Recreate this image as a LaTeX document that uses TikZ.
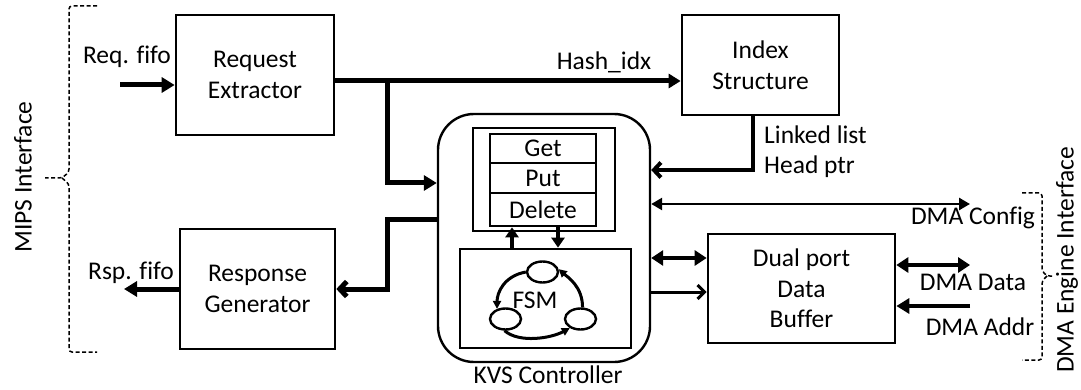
\documentclass[tikz,border=0pt]{standalone}
\usepackage{fontspec}
\setmainfont[Ligatures=NoCommon]{Carlito}
\usetikzlibrary{arrows.meta,shapes.geometric}
\begin{document}
\begin{tikzpicture}[x=1pt,y=-1pt,
  every node/.style={font=\fontsize{25.5}{30.5}\selectfont},
  block/.style={draw, line width=2.7pt, align=center, inner sep=0pt},
  cellbox/.style={draw, line width=2.7pt, minimum width=106pt, inner sep=0pt},
  lbl/.style={inner sep=0pt},
  state/.style={draw, ellipse, line width=2.4pt, minimum width=31pt, minimum height=21pt, inner sep=0pt},
  bus/.style={line width=5pt},
  tri/.style={-{Triangle[length=13pt,width=15pt]}},
  ttri/.style={{Triangle[length=12pt,width=15pt]}-{Triangle[length=12pt,width=15pt]}},
  barb/.style={-{Straight Barb[length=7pt,width=15pt]}},
  smalltri/.style={-{Triangle[length=8pt,width=8pt]}},
  brace/.style={line width=1.5pt, dash pattern=on 4pt off 2.5pt, rounded corners=3pt}]
\useasboundingbox (0,0) rectangle (1081,390);

% functional blocks
\node[block, minimum width=158pt, minimum height=120pt] (re) at (255,75) {Request\\Extractor};
\node[block, minimum width=155pt, minimum height=120pt] (rg) at (257.5,289) {Response\\Generator};
\node[block, minimum width=157pt, minimum height=100pt] (ix) at (760.5,65) {Index\\Structure};
\node[block, minimum width=187pt, minimum height=109pt] (db) at (801.5,288.5) {Dual port\\Data\\Buffer};

% KVS controller with operation table and state machine
\node[draw, line width=2.4pt, rounded corners=36pt, minimum width=212pt, minimum height=248pt] (kvs) at (544,238) {};
\node[block, minimum width=142pt, minimum height=103pt] (ops) at (544,179.5) {};
\node[cellbox, minimum height=29pt] (get) at (543,148.5) {Get};
\node[cellbox, minimum height=30pt] (put) at (543,178) {Put};
\node[cellbox, minimum height=33pt] (del) at (543,209.5) {Delete};
\node[block, minimum width=171pt, minimum height=99pt] (fsm) at (545.5,298.5) {};
\node[lbl] (fsmtxt) at (535,300) {FSM};
\node[state] (s1) at (542.5,272) {};
\node[state] (s2) at (505.5,319) {};
\node[state] (s3) at (580.5,319) {};
\draw[line width=3pt, smalltri] (s1.west) .. controls +(-22,4) and +(0,-16) .. (s2.130);
\draw[line width=3pt, smalltri] (s2.265) .. controls +(15,13) and +(-18,10) .. (s3.220);
\draw[line width=3pt, smalltri] (s3.80) .. controls +(0,-21) and +(9,8) .. (s1.10);

\coordinate (up) at (512,240);
\coordinate (dn) at (558,240);
\draw[line width=4pt, -{Triangle[length=10pt,width=13pt]}] (up |- fsm.north) -- (up |- del.south);
\draw[line width=4pt, -{Triangle[length=10pt,width=13pt]}] (dn |- del.south) -- (dn |- fsm.north);

% MIPS side
\coordinate (reqi) at (120,85);
\draw[bus, tri] (reqi) -- (reqi -| re.west);
\coordinate (rspo) at (124,289);
\draw[bus, tri] (rspo -| rg.west) -- (rspo);

\coordinate (hs) at (387,81);
\coordinate (kin) at (387,183);
\draw[bus, -{Triangle[length=12pt,width=14pt]}] (hs -| re.east) -- (hs -| ix.west);
\draw[bus, tri] (hs) -- (kin) -- (kin -| kvs.west);

\coordinate (r1) at (387,219);
\coordinate (r2) at (387,289);
\draw[bus, barb] (r1 -| kvs.west) -- (r1) -- (r2) -- (r2 -| rg.east);

% index lookup result
\coordinate (ll) at (753,170);
\draw[line width=4pt, barb] (ll |- ix.south) -- (ll) -- (ll -| kvs.east);

% DMA side
\coordinate (dc) at (970,204);
\draw[line width=2.6pt, {Triangle[length=11pt,width=12pt]}-{Triangle[length=11pt,width=12pt]}] (dc -| kvs.east) -- (dc);
\coordinate (kb1) at (680,258);
\draw[line width=4.5pt, ttri] (kb1 -| kvs.east) -- (kb1 -| db.west);
\coordinate (kb2) at (680,292);
\draw[line width=3pt, -{Straight Barb[length=7pt,width=14pt]}] (kb2 -| kvs.east) -- (kb2 -| db.west);
\coordinate (dd) at (970,265);
\draw[line width=4.5pt, ttri] (dd -| db.east) -- (dd);
\coordinate (da) at (970,306);
\draw[line width=4.5pt, tri] (da) -- (da -| db.east);

% signal labels
\node[lbl] (lreq) at (127,57) {Req. fifo};
\node[lbl] (lrsp) at (131,273) {Rsp. fifo};
\node[lbl] (lhash) at (604,62) {Hash\_idx};
\node[lbl, anchor=west] (lll) at (764,135) {Linked list};
\node[lbl, anchor=west] (lhp) at (764,167) {Head ptr};
\node[lbl] (ldc) at (973,218) {DMA Config};
\node[lbl] (ldd) at (973,282) {DMA Data};
\node[lbl] (lda) at (980,327) {DMA Addr};
\node[lbl] (lkvs) at (548,375) {KVS Controller};

% interface braces
\draw[brace] (97,6) -- (69,6) -- (69,172) -- (62,178) -- (45,178);
\draw[brace] (62,178) -- (69,184) -- (69,352) -- (97,352);
\node[lbl, rotate=90] (lmips) at (23,177) {MIPS Interface};
\draw[brace] (1022,193) -- (1042,193) -- (1042,271) -- (1047,276) -- (1053,276);
\draw[brace] (1047,276) -- (1042,281) -- (1042,360) -- (1022,360);
\node[lbl, rotate=90] (ldma) at (1067,260) {DMA Engine Interface};
\end{tikzpicture}
\end{document}
